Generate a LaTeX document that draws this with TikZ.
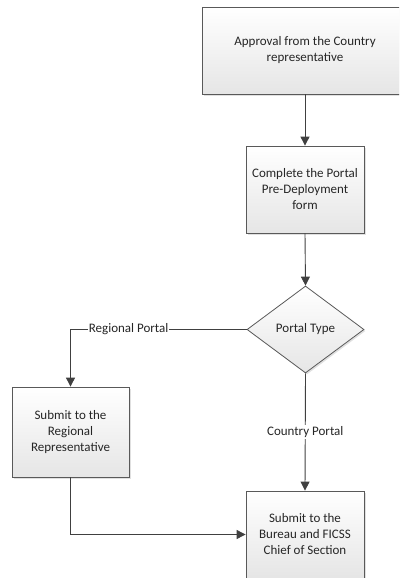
\documentclass[tikz,border=0pt]{standalone}
\usepackage{fontspec}
\setmainfont{Carlito}
\usetikzlibrary{arrows.meta,shapes.geometric,shadows}
\begin{document}
\begin{tikzpicture}[x=1pt,y=-1pt,
  box/.style={draw=black!65, line width=0.8pt, top color=white, bottom color=black!10,
    drop shadow={shadow xshift=1.5pt, shadow yshift=-1.5pt, opacity=0.2, fill=black!60},
    align=center, inner sep=2pt, text=black!85, font=\fontsize{13}{16}\selectfont},
  dec/.style={box, shape=diamond, inner sep=0pt},
  conn/.style={draw=black!75, line width=0.9pt},
  arr/.style={conn, -{Triangle[width=9pt,length=9pt]}},
  lbl/.style={fill=white, inner sep=1pt, font=\fontsize{13}{14}\selectfont, text=black!85}
]
\useasboundingbox (0,0) rectangle (399,578);
\clip (0,0) rectangle (399,578);
\node[box, minimum width=206, minimum height=87] (a) at (305,50.5) {Approval from the Country\\representative};
\node[box, minimum width=118, minimum height=87] (b) at (305,189.5) {Complete the Portal\\Pre-Deployment\\form};
\node[dec, minimum width=117, minimum height=87] (d) at (305.5,329.5) {Portal Type};
\node[box, minimum width=117, minimum height=90] (r) at (70.5,432) {Submit to the\\Regional\\Representative};
\node[box, minimum width=118, minimum height=87] (c) at (305,534.5) {Submit to the\\Bureau and FICSS\\Chief of Section};
\draw[arr] (a.south) -- (b.north);
\draw[arr] (b.south) -- (d.north);
\coordinate (k) at (d.west -| r.north);
\draw[arr] (d.west) -- node[lbl, pos=0.67] (lr) {Regional Portal} (k) -- (r.north);
\draw[arr] (d.south) -- node[lbl, pos=0.5] (lc) {Country Portal} (c.north);
\draw[arr] (r.south) |- (c.west);
\end{tikzpicture}
\end{document}
